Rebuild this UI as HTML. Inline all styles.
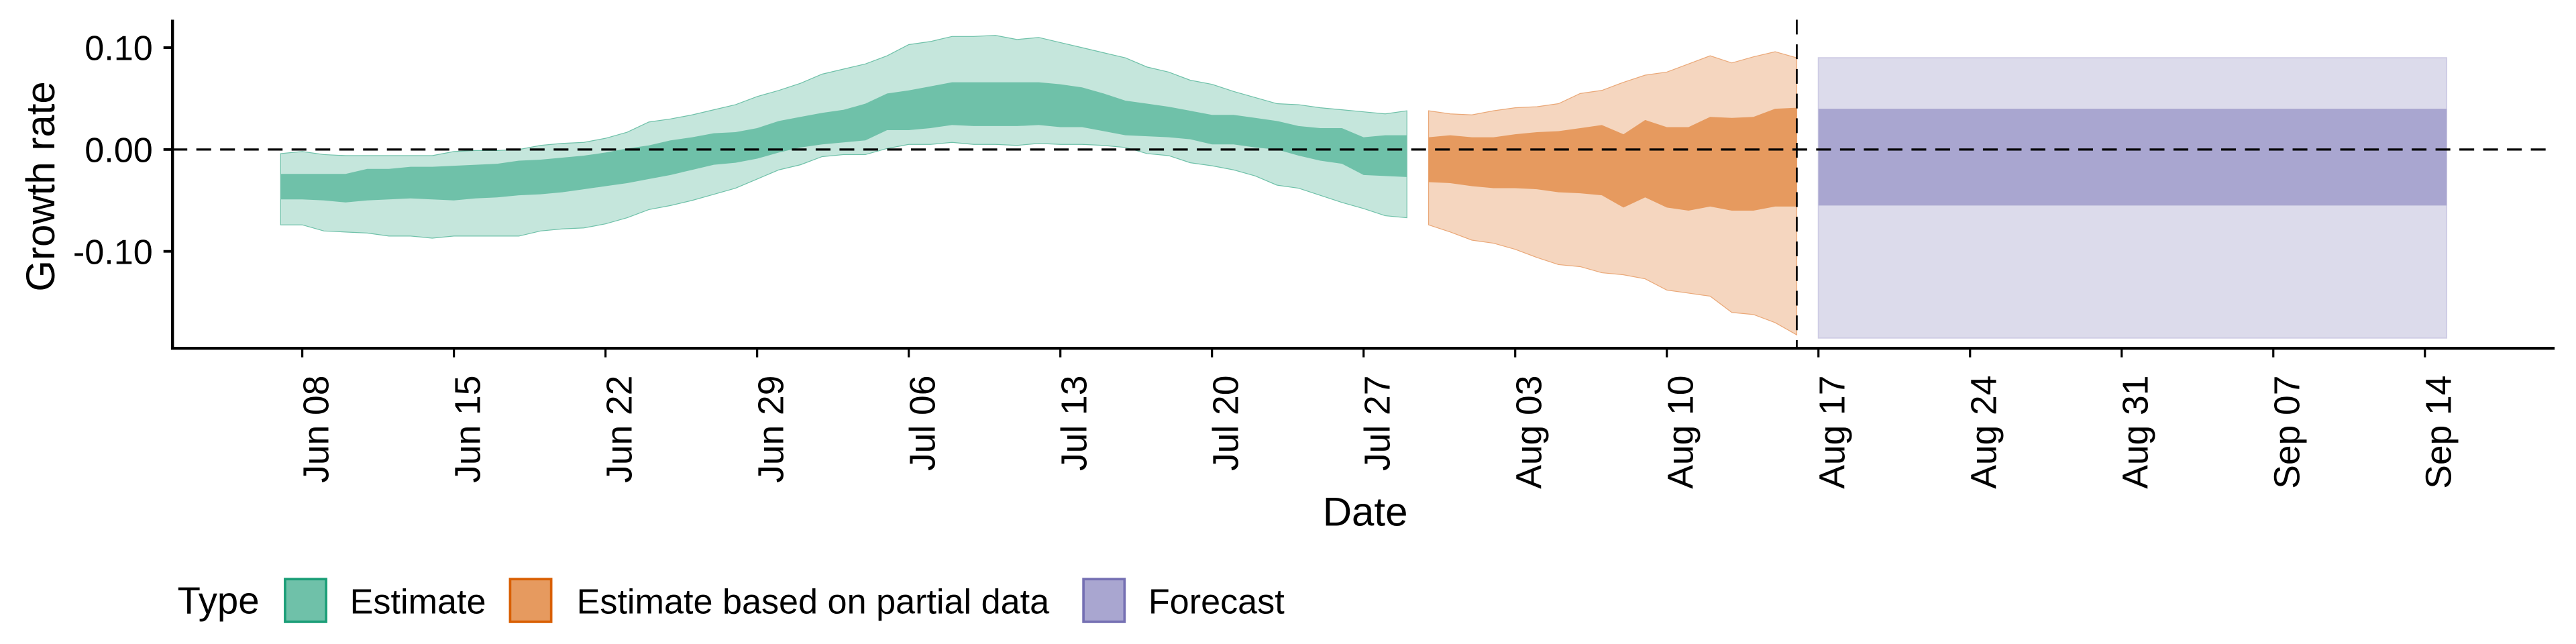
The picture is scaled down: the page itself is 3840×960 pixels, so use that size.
<!DOCTYPE html>
<html><head><meta charset="utf-8"><style>
html,body{margin:0;padding:0;background:#fff}
svg{display:block}
text{font-family:"Liberation Sans",Arial,sans-serif;fill:#000}
</style></head><body>
<svg id="chart" width="3840" height="960" viewBox="0 0 1568 392" preserveAspectRatio="none" xmlns="http://www.w3.org/2000/svg">
<g id="bands"></g>
<g id="axes"></g>
<text transform="translate(33,113.5) rotate(-90)" text-anchor="middle" font-size="24.5">Growth rate</text>
<text x="831" y="320" text-anchor="middle" font-size="24.5">Date</text>
<g>
<text x="108" y="373.5" font-size="23">Type</text>
<rect x="173.5" y="352.5" width="25" height="26" fill="#6fc1a9" stroke="#1b9e77" stroke-width="1.5"/>
<text x="213" y="373.5" font-size="21.3">Estimate</text>
<rect x="310.5" y="352.5" width="25" height="26" fill="#e69a5f" stroke="#d95f02" stroke-width="1.5"/>
<text x="351" y="373.5" font-size="21.3">Estimate based on partial data</text>
<rect x="659.5" y="352.5" width="25" height="26" fill="#a9a6d0" stroke="#7570b3" stroke-width="1.5"/>
<text x="699" y="373.5" font-size="21.3">Forecast</text>
</g>
</svg>
<script>
// day index relative to Jun 08
const estStart = -1; // Jun 07
const estOuterUpper = [-0.004,-0.002,-0.005,-0.006,-0.006,-0.006,-0.006,-0.006,-0.002,-0.001,-0.001,0.000,0.004,0.006,0.007,0.011,0.017,0.027,0.030,0.034,0.039,0.044,0.052,0.058,0.065,0.074,0.079,0.084,0.092,0.103,0.106,0.111,0.111,0.112,0.108,0.110,0.105,0.100,0.095,0.090,0.081,0.076,0.068,0.064,0.057,0.051,0.045,0.044,0.041,0.039,0.037,0.035,0.038];
const estInnerUpper = [-0.024,-0.024,-0.024,-0.024,-0.019,-0.019,-0.017,-0.017,-0.016,-0.015,-0.014,-0.011,-0.010,-0.008,-0.006,-0.003,0.001,0.004,0.009,0.012,0.016,0.017,0.021,0.028,0.032,0.036,0.039,0.045,0.055,0.058,0.062,0.066,0.066,0.066,0.066,0.066,0.064,0.061,0.055,0.048,0.045,0.042,0.038,0.034,0.034,0.031,0.028,0.023,0.021,0.021,0.012,0.014,0.014];
const estInnerLower = [-0.049,-0.049,-0.050,-0.052,-0.050,-0.049,-0.048,-0.049,-0.050,-0.048,-0.047,-0.045,-0.044,-0.042,-0.039,-0.036,-0.033,-0.029,-0.025,-0.020,-0.015,-0.013,-0.009,-0.003,0.002,0.005,0.007,0.009,0.019,0.019,0.021,0.024,0.023,0.023,0.023,0.024,0.022,0.022,0.018,0.014,0.013,0.012,0.010,0.005,0.005,0.002,0.000,-0.006,-0.011,-0.014,-0.025,-0.026,-0.027];
const estOuterLower = [-0.074,-0.074,-0.080,-0.081,-0.082,-0.085,-0.085,-0.087,-0.085,-0.085,-0.085,-0.085,-0.080,-0.078,-0.077,-0.073,-0.067,-0.059,-0.055,-0.050,-0.044,-0.038,-0.029,-0.020,-0.015,-0.007,-0.005,-0.005,0.001,0.005,0.005,0.007,0.005,0.005,0.004,0.006,0.005,0.005,0.004,0.002,-0.004,-0.006,-0.013,-0.016,-0.020,-0.026,-0.035,-0.038,-0.045,-0.052,-0.058,-0.065,-0.067];
const partStart = 52; // Jul 30
const partOuterUpper = [0.038,0.035,0.034,0.038,0.041,0.042,0.045,0.055,0.058,0.066,0.073,0.076,0.084,0.092,0.085,0.091,0.096,0.090];
const partInnerUpper = [0.012,0.014,0.012,0.012,0.015,0.017,0.018,0.021,0.024,0.015,0.029,0.022,0.022,0.032,0.031,0.032,0.040,0.041];
const partInnerLower = [-0.032,-0.033,-0.036,-0.038,-0.038,-0.039,-0.042,-0.043,-0.045,-0.057,-0.047,-0.057,-0.060,-0.056,-0.060,-0.060,-0.056,-0.056];
const partOuterLower = [-0.074,-0.081,-0.089,-0.092,-0.098,-0.106,-0.113,-0.115,-0.121,-0.123,-0.127,-0.138,-0.141,-0.144,-0.160,-0.162,-0.170,-0.182];
const fcStartDay = 70, fcEndDay = 99;
const fcOuter = [0.090, -0.185];
const fcInner = [0.040, -0.055];
const cutoffDay = 69;
const xTickLabels = ["Jun 08","Jun 15","Jun 22","Jun 29","Jul 06","Jul 13","Jul 20","Jul 27","Aug 03","Aug 10","Aug 17","Aug 24","Aug 31","Sep 07","Sep 14"];
const yTicks = [0.10, 0.00, -0.10];
const yTickLabels = ["0.10","0.00","-0.10"];

const NS = "http://www.w3.org/2000/svg";
const X0 = 184, DX = 13.184;
const xs = d => X0 + DX * d;
const ys = v => 91 - 620 * v;
const L = 105, R = 1555, T = 12, B = 212;

function mk(tag, attrs, parent){
  const e = document.createElementNS(NS, tag);
  for (const k in attrs) e.setAttribute(k, attrs[k]);
  parent.appendChild(e); return e;
}
const bands = document.getElementById('bands');
const axes = document.getElementById('axes');

function band(start, up, lo, fill, stroke, name){
  let pts = up.map((v,i)=> xs(start+i).toFixed(2)+','+ys(v).toFixed(2));
  for (let i = lo.length-1; i >= 0; i--) pts.push(xs(start+i).toFixed(2)+','+ys(lo[i]).toFixed(2));
  const p = mk('polygon', {points: pts.join(' '), fill: fill, stroke: stroke, 'stroke-width': 0.5}, bands);
  
  
}
band(estStart, estOuterUpper, estOuterLower, '#c5e6dc', '#6fc1a9', 'estimate-outer-band');
band(estStart, estInnerUpper, estInnerLower, '#6fc1a9', 'none', 'estimate-inner-band');
band(partStart, partOuterUpper, partOuterLower, '#f5d6bf', '#eaa878', 'partial-outer-band');
band(partStart, partInnerUpper, partInnerLower, '#e69a5f', 'none', 'partial-inner-band');

const fo = mk('rect', {x: xs(fcStartDay), y: ys(fcOuter[0]), width: xs(fcEndDay)-xs(fcStartDay), height: ys(fcOuter[1])-ys(fcOuter[0]), fill: '#dcdbeb', stroke: '#cfcde5', 'stroke-width': 0.8}, bands);


const fi = mk('rect', {x: xs(fcStartDay), y: ys(fcInner[0]), width: xs(fcEndDay)-xs(fcStartDay), height: ys(fcInner[1])-ys(fcInner[0]), fill: '#a9a6d0'}, bands);



// zero line
const z = mk('line', {x1: L, x2: R, y1: ys(0), y2: ys(0), stroke: '#000', 'stroke-width': 1.3, 'stroke-dasharray': '9 5.5'}, axes);


// cutoff line
const cl = mk('line', {x1: xs(cutoffDay), x2: xs(cutoffDay), y1: T, y2: B, stroke: '#000', 'stroke-width': 1.1, 'stroke-dasharray': '9 6'}, axes);



// axes lines
const ya = mk('line', {x1: L, x2: L, y1: T, y2: B+0.8, stroke: '#000', 'stroke-width': 1.8}, axes);


const xa = mk('line', {x1: L-0.9, x2: R, y1: B, y2: B, stroke: '#000', 'stroke-width': 1.8}, axes);



yTicks.forEach((v,i)=>{
  const t = mk('line', {x1: L-5.5, x2: L, y1: ys(v), y2: ys(v), stroke: '#000', 'stroke-width': 1.6}, axes);
  
  
  const lb = mk('text', {x: 93, y: ys(v)+7.6, 'text-anchor': 'end', 'font-size': 21.3}, axes);
  lb.textContent = yTickLabels[i];
  
  
});
xTickLabels.forEach((s,i)=>{
  const x = xs(i*7);
  const t = mk('line', {x1: x, x2: x, y1: B, y2: B+5.5, stroke: '#000', 'stroke-width': 1.3}, axes);
  
  
  const lb = mk('text', {transform: 'translate('+(x+15.8)+','+228.5+') rotate(-90)', 'text-anchor': 'end', 'font-size': 21.8}, axes);
  lb.textContent = s;
  
  
});
</script>
</body></html>
